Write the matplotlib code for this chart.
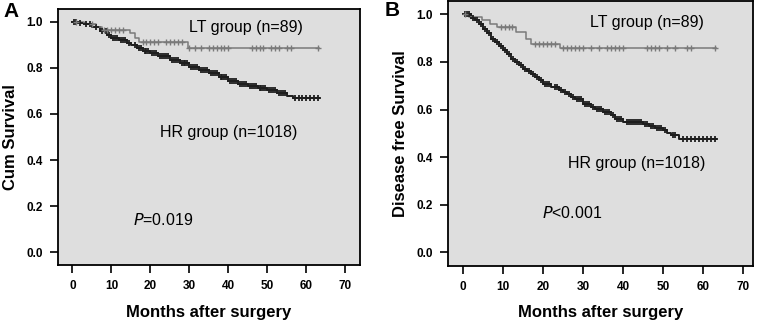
import matplotlib
matplotlib.use("Agg")
import matplotlib.pyplot as plt
import numpy as np

plt.rcParams['font.family'] = ['Liberation Sans', 'DejaVu Sans']

# ---------------- Data ----------------
# Panel A : overall survival
a_hr_t = [0, 1.5, 3, 5, 7, 9, 10, 12, 14, 15, 16.5, 18, 20, 22, 25, 27.5, 30, 32.5, 35, 37.5, 40, 42.5, 45, 47.5, 50, 52.5, 55, 56.5]
a_hr_s = [1.0, 0.995, 0.99, 0.978, 0.962, 0.945, 0.932, 0.92, 0.908, 0.899, 0.885, 0.872, 0.863, 0.852, 0.834, 0.82, 0.805, 0.792, 0.776, 0.76, 0.742, 0.732, 0.72, 0.712, 0.703, 0.69, 0.68, 0.671]
a_hr_cens = [0.5, 1, 2, 3.5, 4.5, 6, 7.5, 8.5, 9.5, 10.5, 11, 11.5, 12.5, 13, 13.5, 14.5, 16, 17, 17.5, 18.5, 19, 19.5, 20.5, 21, 21.5, 22.5, 23, 23.5, 24, 24.5, 25.5, 26, 26.5, 27, 28, 28.5, 29, 29.5, 30.5, 31, 31.5, 32, 33, 33.5, 34, 34.5, 35.5, 36, 36.5, 37, 38, 38.5, 39, 39.5, 40.5, 41, 41.5, 42, 43, 43.5, 44, 44.5, 45.5, 46, 46.5, 47, 48, 48.5, 49, 49.5, 50.5, 51, 51.5, 52, 53, 53.5, 54, 54.5, 57, 58, 59, 60, 61, 62, 63]
a_end = 63.2

a_lt_t = [0, 3, 6, 7.5, 14.8, 16, 17, 29.7]
a_lt_s = [1.0, 0.99, 0.978, 0.965, 0.95, 0.928, 0.913, 0.885]
a_lt_cens = [1, 5, 8, 9, 10, 11, 12, 13, 18, 19, 20, 21, 22, 24, 25, 26, 27, 28, 30, 31.5, 33, 35, 36, 37, 38, 39, 40, 46, 47, 48, 49, 51, 52, 53, 55, 56, 63]

# Panel B : disease free survival
b_hr_t = [0, 2, 3, 4, 5, 6, 7, 8, 9, 10, 11, 12, 13, 14, 15, 16, 17, 18, 19, 20, 22, 24, 25, 26, 27, 28, 30, 32, 33, 35, 37, 38, 40, 45, 46.5, 48, 50, 51, 52, 54]
b_hr_s = [1.0, 0.985, 0.975, 0.958, 0.94, 0.92, 0.898, 0.882, 0.865, 0.849, 0.832, 0.814, 0.8, 0.786, 0.772, 0.76, 0.748, 0.735, 0.722, 0.709, 0.695, 0.683, 0.674, 0.664, 0.653, 0.643, 0.625, 0.612, 0.604, 0.59, 0.575, 0.562, 0.548, 0.541, 0.532, 0.524, 0.513, 0.502, 0.492, 0.478]
b_hr_cens = [0.5, 1, 1.5, 2.5, 3.5, 4.5, 5.5, 6.5, 7.5, 8.5, 9.5, 10.5, 11.5, 12.5, 13.5, 14.5, 15.5, 16.5, 17.5, 18.5, 19.5, 20.5, 21, 21.5, 23, 23.5, 24.5, 25.5, 26.5, 27.5, 28.5, 29, 29.5, 30.5, 31, 31.5, 32.5, 33.5, 34, 34.5, 35.5, 36, 36.5, 37.5, 38.5, 39, 39.5, 41, 41.5, 42, 42.5, 43, 43.5, 44, 44.5, 45.5, 46, 47, 47.5, 48.5, 49, 49.5, 50.5, 52.5, 53, 55, 56, 57, 58, 59, 60, 61, 62, 63]
b_end = 63.2

b_lt_t = [0, 1.5, 4.6, 6.7, 8.5, 13.3, 15.8, 17, 24.2]
b_lt_s = [1.0, 0.989, 0.975, 0.961, 0.947, 0.926, 0.898, 0.877, 0.86]
b_lt_cens = [0.5, 9.5, 10.5, 11.5, 12.2, 18, 19, 20, 21, 22, 23, 25, 26, 27, 28, 29, 30, 32, 34, 36, 37, 38, 39, 40, 46, 47, 48, 49, 51, 53, 56, 57, 63]

x_ticks = [0, 10, 20, 30, 40, 50, 60, 70]
y_ticks = [0.0, 0.2, 0.4, 0.6, 0.8, 1.0]
y_ticklabels = ['0.0', '0.2', '0.4', '0.6', '0.8', '1.0']

HR_COLOR = '#1e1e1e'
LT_COLOR = '#7a7a7a'
BG = '#dedede'


def step_value(ts, ss, x):
    idx = np.searchsorted(np.asarray(ts), x, side='right') - 1
    return np.asarray(ss)[idx]


def draw_km(ax, ts, ss, cens, end, color, lw, ms, mew):
    xs = list(ts) + [end]
    ys = list(ss) + [ss[-1]]
    ax.step(xs, ys, where='post', color=color, lw=lw, zorder=3)
    cy = step_value(ts, ss, np.asarray(cens))
    ax.plot(cens, cy, linestyle='none', marker='+', color=color,
            markersize=ms, markeredgewidth=mew, zorder=4)


fig = plt.figure(figsize=(7.61, 3.22), dpi=100)
axA = fig.add_axes([0.0762, 0.177, 0.397, 0.795])
axB = fig.add_axes([0.589, 0.175, 0.4005, 0.822])

for ax, xl in ((axA, (-3.7, 73.8)), (axB, (-3.75, 72.4))):
    ax.set_facecolor(BG)
    ax.set_xlim(*xl)
    ax.set_ylim(-0.056, 1.056)
    ax.set_xticks(x_ticks)
    ax.set_yticks(y_ticks)
    ax.set_yticklabels(y_ticklabels)
    ax.tick_params(direction='out', length=6, width=1.2, labelsize=8.5, pad=5)
    for lab in ax.get_xticklabels() + ax.get_yticklabels():
        lab.set_fontweight('bold')
    for sp in ax.spines.values():
        sp.set_linewidth(1.3)
        sp.set_color('black')
    ax.set_xlabel('Months after surgery', fontsize=12, fontweight='bold', labelpad=9)

draw_km(axA, a_hr_t, a_hr_s, a_hr_cens, a_end, HR_COLOR, 1.4, 5, 1.3)
draw_km(axA, a_lt_t, a_lt_s, a_lt_cens, a_end, LT_COLOR, 1.1, 4.5, 1.0)
draw_km(axB, b_hr_t, b_hr_s, b_hr_cens, b_end, HR_COLOR, 1.4, 5, 1.3)
draw_km(axB, b_lt_t, b_lt_s, b_lt_cens, b_end, LT_COLOR, 1.1, 4.5, 1.0)

axA.set_ylabel('Cum Survival', fontsize=12, fontweight='bold', labelpad=6)
axB.set_ylabel('Disease free Survival', fontsize=12, fontweight='bold', labelpad=6)

axA.text(44.5, 0.977, 'LT group (n=89)', fontsize=11.5, ha='center', va='center')
axA.text(40, 0.52, 'HR group (n=1018)', fontsize=11.5, ha='center', va='center')
axA.text(15.5, 0.14, r'$\mathit{P}$=0.019', fontsize=11.5, ha='left', va='center')

axB.text(46, 0.966, 'LT group (n=89)', fontsize=11.5, ha='center', va='center')
axB.text(43.3, 0.374, 'HR group (n=1018)', fontsize=11.5, ha='center', va='center')
axB.text(19.7, 0.164, r'$\mathit{P}$<0.001', fontsize=11.5, ha='left', va='center')

fig.text(0.004, 0.965, 'A', fontsize=15, fontweight='bold', ha='left', va='center')
fig.text(0.505, 0.968, 'B', fontsize=15, fontweight='bold', ha='left', va='center')

fig.savefig('out.png', dpi=100)
